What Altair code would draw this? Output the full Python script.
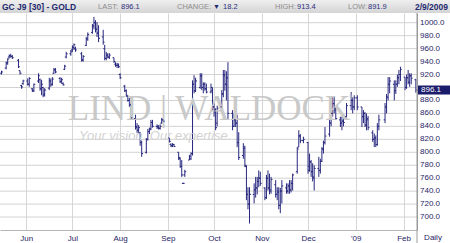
import altair as alt
import pandas as pd

# ---------------- data ----------------
dates = [
    # May 2008
    "2008-05-16", "2008-05-19", "2008-05-20", "2008-05-21", "2008-05-22", "2008-05-23", "2008-05-27", "2008-05-28", "2008-05-29", "2008-05-30",
    # Jun
    "2008-06-02", "2008-06-03", "2008-06-05", "2008-06-06", "2008-06-09", "2008-06-10", "2008-06-11", "2008-06-12", "2008-06-13", "2008-06-16",
    "2008-06-17", "2008-06-18", "2008-06-19", "2008-06-20", "2008-06-23", "2008-06-24", "2008-06-25", "2008-06-26", "2008-06-27", "2008-06-30",
    # Jul
    "2008-07-01", "2008-07-02", "2008-07-03", "2008-07-07", "2008-07-08", "2008-07-10", "2008-07-11", "2008-07-14", "2008-07-15", "2008-07-16",
    "2008-07-17", "2008-07-18", "2008-07-21", "2008-07-22", "2008-07-23", "2008-07-24", "2008-07-25", "2008-07-28", "2008-07-29", "2008-07-30", "2008-07-31",
    # Aug
    "2008-08-01", "2008-08-04", "2008-08-05", "2008-08-06", "2008-08-07", "2008-08-08", "2008-08-11", "2008-08-12", "2008-08-13", "2008-08-14",
    "2008-08-15", "2008-08-18", "2008-08-19", "2008-08-20", "2008-08-21", "2008-08-22", "2008-08-25", "2008-08-26", "2008-08-27", "2008-08-28", "2008-08-29",
    # Sep
    "2008-09-02", "2008-09-03", "2008-09-04", "2008-09-05", "2008-09-08", "2008-09-09", "2008-09-10", "2008-09-11", "2008-09-12", "2008-09-15",
    "2008-09-16", "2008-09-17", "2008-09-18", "2008-09-19", "2008-09-22", "2008-09-23", "2008-09-24", "2008-09-25", "2008-09-26", "2008-09-29", "2008-09-30",
    # Oct
    "2008-10-01", "2008-10-02", "2008-10-03", "2008-10-06", "2008-10-07", "2008-10-08", "2008-10-09", "2008-10-10", "2008-10-13", "2008-10-14",
    "2008-10-15", "2008-10-16", "2008-10-17", "2008-10-20", "2008-10-21", "2008-10-22", "2008-10-23", "2008-10-24", "2008-10-27", "2008-10-28",
    "2008-10-29", "2008-10-30", "2008-10-31",
    # Nov
    "2008-11-03", "2008-11-04", "2008-11-05", "2008-11-06", "2008-11-07", "2008-11-10", "2008-11-11", "2008-11-12", "2008-11-13", "2008-11-14",
    "2008-11-17", "2008-11-18", "2008-11-19", "2008-11-20", "2008-11-21", "2008-11-24", "2008-11-25", "2008-11-26", "2008-11-28",
    # Dec
    "2008-12-01", "2008-12-02", "2008-12-03", "2008-12-04", "2008-12-05", "2008-12-08", "2008-12-09", "2008-12-10", "2008-12-11", "2008-12-12",
    "2008-12-15", "2008-12-16", "2008-12-17", "2008-12-18", "2008-12-19", "2008-12-22", "2008-12-23", "2008-12-24", "2008-12-26", "2008-12-29",
    "2008-12-30", "2008-12-31",
    # Jan 2009
    "2009-01-02", "2009-01-05", "2009-01-06", "2009-01-07", "2009-01-08", "2009-01-09", "2009-01-12", "2009-01-13", "2009-01-14", "2009-01-15",
    "2009-01-16", "2009-01-20", "2009-01-21", "2009-01-22", "2009-01-23", "2009-01-26", "2009-01-27", "2009-01-28", "2009-01-29", "2009-01-30",
    # Feb
    "2009-02-02", "2009-02-03", "2009-02-04", "2009-02-05", "2009-02-06", "2009-02-09",
]

opens = [
    922, 930, 938, 947, 949, 948, 942, 926, 903, 906,
    910, 905, 898, 895, 910, 912, 898, 900, 890, 899, 910, 905, 922, 927, 914, 909, 906, 928, 947, 952,
    958, 962, 960, 952, 942, 965, 975, 985, 995, 1000, 990, 984, 978, 960, 945, 950, 947, 946, 936, 934, 934,
    920, 902, 895, 886, 880, 873, 852, 838, 834, 830, 815, 800, 820, 832, 836, 846, 840, 838, 837, 845, 850,
    822, 812, 810, 812, 800, 790, 778, 752, 765, 788, 790, 798, 905, 895, 900, 918, 900, 905, 898, 893, 895,
    870, 862, 845, 870, 890, 918, 905, 915, 860, 840, 850, 845, 815, 795, 806, 778, 735, 720, 735, 742, 745, 755, 760,
    745, 730, 760, 745, 742, 750, 735, 738, 718, 740, 745, 740, 748, 742, 752, 770, 808, 824, 818,
    815, 778, 785, 770, 760, 775, 772, 786, 805, 815, 828, 845, 860, 875, 865, 850, 845, 848, 855, 872, 880, 870,
    884, 870, 855, 860, 842, 850, 830, 820, 822, 812, 840, 850, 870, 885, 905, 905, 895, 905, 915, 920,
    916, 900, 915, 908, 918, 912,
]

highs = [
    926, 940, 945, 951, 952, 950, 944, 926, 904, 912,
    914, 916, 899, 906, 922, 914, 912, 901, 899, 915, 914, 916, 930, 930, 916, 915, 908, 935, 955, 958,
    965, 968, 963, 955, 950, 978, 985, 998, 1009, 1004, 1001, 996, 989, 966, 955, 953, 953, 946, 939, 938, 937,
    922, 904, 897, 888, 884, 873, 858, 845, 842, 831, 818, 822, 836, 838, 850, 850, 843, 842, 843, 853, 853,
    822, 814, 814, 813, 800, 792, 788, 753, 773, 796, 800, 911, 919, 915, 922, 922, 908, 908, 906, 906, 900,
    876, 868, 872, 896, 927, 927, 925, 939, 865, 860, 858, 858, 831, 814, 810, 780, 746, 746, 752, 762, 762, 772, 770,
    746, 765, 772, 767, 762, 757, 746, 746, 745, 757, 752, 752, 757, 757, 767, 808, 834, 828, 824,
    816, 798, 788, 783, 780, 793, 790, 808, 818, 839, 850, 865, 885, 885, 870, 855, 855, 852, 876, 893, 885, 888,
    888, 870, 865, 862, 860, 856, 834, 829, 826, 845, 858, 876, 890, 916, 916, 911, 911, 920, 927, 932,
    916, 920, 927, 922, 922, 913.4,
]

lows = [
    920, 928, 935, 945, 946, 944, 930, 920, 898, 904,
    903, 901, 893, 893, 907, 895, 888, 885, 886, 896, 901, 903, 921, 922, 907, 906, 903, 927, 945, 949,
    955, 958, 955, 940, 940, 964, 972, 983, 990, 985, 978, 970, 966, 942, 942, 945, 944, 938, 932, 930, 930,
    913, 893, 886, 878, 870, 850, 835, 830, 830, 810, 793, 798, 818, 828, 834, 838, 836, 835, 835, 844, 845,
    815, 808, 808, 808, 788, 776, 762, 751, 762, 788, 788, 795, 891, 893, 898, 896, 891, 895, 891, 891, 865,
    855, 834, 840, 868, 885, 895, 880, 850, 834, 839, 839, 808, 788, 790, 777, 726, 712, 690, 721, 730, 735, 746, 748,
    726, 728, 741, 735, 736, 730, 726, 712, 706, 721, 736, 736, 736, 738, 741, 767, 808, 814, 814,
    767, 770, 762, 755, 741, 762, 767, 785, 798, 812, 824, 840, 855, 860, 850, 839, 834, 840, 850, 865, 860, 865,
    865, 839, 845, 839, 834, 834, 816, 808, 808, 810, 834, 845, 860, 880, 891, 880, 890, 901, 905, 910,
    896, 898, 905, 901, 905, 891.9,
]

closes = [
    924, 938, 944, 949, 948, 946, 932, 922, 901, 910,
    905, 914, 895, 905, 918, 898, 905, 888, 896, 910, 904, 913, 928, 924, 909, 912, 904, 933, 952, 955,
    962, 966, 958, 943, 948, 975, 982, 995, 1000, 990, 984, 976, 970, 945, 950, 947, 950, 940, 934, 936, 932,
    915, 895, 888, 880, 874, 853, 840, 834, 838, 815, 798, 820, 832, 836, 846, 840, 840, 837, 840, 850, 848,
    817, 810, 812, 809, 792, 778, 765, 752, 770, 794, 798, 905, 895, 910, 918, 900, 905, 898, 893, 900, 870,
    865, 838, 868, 890, 920, 905, 915, 860, 840, 850, 845, 815, 792, 808, 780, 735, 720, 735, 742, 745, 755, 760, 752,
    730, 760, 745, 740, 758, 735, 740, 718, 740, 748, 740, 748, 742, 752, 765, 805, 826, 818, 820,
    772, 785, 770, 762, 775, 772, 786, 805, 815, 825, 845, 860, 875, 868, 852, 845, 848, 846, 872, 880, 870, 884,
    870, 855, 860, 842, 852, 838, 820, 822, 812, 840, 850, 870, 885, 905, 910, 895, 905, 915, 920, 928,
    900, 915, 908, 918, 914.3, 896.1,
]

month_starts = [(2008, 6), (2008, 7), (2008, 8), (2008, 9), (2008, 10), (2008, 11), (2008, 12), (2009, 1), (2009, 2)]
y_ticks = [700, 720, 740, 760, 780, 800, 820, 840, 860, 880, 900, 920, 940, 960, 980, 1000]

title_text = "GC J9 [30] - GOLD"
stat_labels = ["LAST:", "CHANGE:", "HIGH:", "LOW:"]
stat_values = [896.1, 18.2, 913.4, 891.9]
date_text = "2/9/2009"
watermark_main = "LIND | WALDOCK"
watermark_tag = "Your vision. Our expertise."

# ---------------- chart ----------------
NAVY = "#27277f"
LABEL_NAVY = "#1f2466"
GRID = "#d2d2d2"
FONT = "Liberation Sans"

df = pd.DataFrame({
    "date": [d + "T00:00:00" for d in dates],
    "open": opens, "high": highs, "low": lows, "close": closes,
})
one = pd.DataFrame({"k": [0]})
last = closes[-1]
ticks_df = pd.DataFrame({
    "v": y_ticks,
    "lab": ["" if (v == 900) else f"{v:.1f}" for v in y_ticks],
})

x_scale = alt.Scale(domain=[alt.DateTime(year=2008, month=5, date=15),
                            alt.DateTime(year=2009, month=2, date=9, hours=18)])
y_scale = alt.Scale(domain=[680, 1015], nice=False, zero=False)

x_axis = alt.Axis(
    values=[alt.DateTime(year=y, month=m, date=1) for y, m in month_starts],
    labelExpr="month(datum.value) == 0 ? \"'\" + timeFormat(datum.value, '%y') : timeFormat(datum.value, '%b')",
    title=None, grid=True, gridColor="#d6d6d6", domainColor="#b5b5b5", ticks=False,
    labelFont=FONT, labelFontSize=8, labelColor=LABEL_NAVY, labelPadding=4,
    labelOverlap=False, labelFlush=False,
)
y_axis = alt.Axis(orient="right", title=None, grid=False, labels=False, ticks=False,
                  domainColor="#9a9a9a")

# horizontal grid lines at every y tick (behind the bars)
hgrid = alt.Chart(ticks_df).mark_rule(color=GRID, strokeWidth=1).encode(
    y=alt.Y("v:Q", scale=y_scale, axis=y_axis))
# price labels on the right side
ylabels = alt.Chart(ticks_df).mark_text(
    align="left", baseline="middle", fontSize=8, font=FONT, color=LABEL_NAVY
).encode(x=alt.value(420), y=alt.Y("v:Q", scale=y_scale), text="lab:N")

base = alt.Chart(df)
hl = base.mark_rule(color=NAVY, strokeWidth=1).encode(
    x=alt.X("date:T", scale=x_scale, axis=x_axis),
    y=alt.Y("low:Q", scale=y_scale),
    y2="high:Q",
)
op = base.mark_rule(color=NAVY, strokeWidth=1, xOffset=-1.4, x2Offset=0).encode(
    x="date:T", x2="date:T", y="open:Q")
cl = base.mark_rule(color=NAVY, strokeWidth=1, xOffset=0, x2Offset=1.4).encode(
    x="date:T", x2="date:T", y="close:Q")


def txt(s, x, y, size=8, color=LABEL_NAVY, weight="normal", align="left",
        font=FONT, style="normal", baseline="middle"):
    return alt.Chart(one).mark_text(
        text=s, fontSize=size, color=color, fontWeight=weight, align=align,
        font=font, fontStyle=style, baseline=baseline,
    ).encode(x=alt.value(x), y=alt.value(y))


header_bg = alt.Chart(one).mark_rect(
    color=alt.LinearGradient(
        gradient="linear",
        stops=[alt.GradientStop(color="#efefef", offset=0), alt.GradientStop(color="#d4d4d4", offset=1)],
        x1=0, x2=0, y1=0, y2=1,
    )
).encode(x=alt.value(0), x2=alt.value(450), y=alt.value(-13), y2=alt.value(0))

sep = alt.Chart(one).mark_rule(color="#9a9a9a", strokeWidth=1).encode(
    x=alt.value(417), y=alt.value(0), y2=alt.value(230))

last_df = pd.DataFrame({"last": [last]})
box = alt.Chart(last_df).mark_rect(color="#1b1c6b", yOffset=-4.5, y2Offset=4.5).encode(
    x=alt.value(418), x2=alt.value(450), y=alt.Y("last:Q", scale=y_scale), y2="last:Q")
box_txt = alt.Chart(last_df).mark_text(
    text=f"{last:.1f}", color="white", align="left", baseline="middle", fontSize=8, font=FONT
).encode(x=alt.value(421), y=alt.Y("last:Q", scale=y_scale))

wm1 = txt(watermark_main, 209, 107, size=35, color="#c9c9c9", align="center",
          font="Liberation Serif", baseline="alphabetic")
wm_r = txt("\u00ae", 349, 84, size=6, color="#c9c9c9", align="left", baseline="middle")
wm2 = txt(watermark_tag, 79, 127, size=13, color="#d3d3d3", align="left",
          style="italic", baseline="alphabetic")

HY = -6.5
GRAY = "#8c8c8c"
head = [
    txt(title_text, 2, HY, size=8.5, color="#1f2a6e", weight="bold"),
    txt(stat_labels[0], 98, HY, size=7.5, color=GRAY),
    txt(f"{stat_values[0]:.1f}", 121, HY, size=7.5, color="#2a2f80"),
    txt(stat_labels[1], 177, HY, size=7.5, color=GRAY),
    txt("\u25bc", 213, HY, size=7, color="#1f2a6e"),
    txt(f"{stat_values[1]:.1f}", 223, HY, size=7.5, color="#2a2f80"),
    txt(stat_labels[2], 275, HY, size=7.5, color=GRAY),
    txt(f"{stat_values[2]:.1f}", 297, HY, size=7.5, color="#2a2f80"),
    txt(stat_labels[3], 348, HY, size=7.5, color=GRAY),
    txt(f"{stat_values[3]:.1f}", 368, HY, size=7.5, color="#2a2f80"),
    txt(date_text, 448, HY, size=8.5, color="#1f2a6e", weight="bold", align="right"),
]
daily = txt("Daily", 433, 225, size=8, color=LABEL_NAVY, align="center")

chart = alt.layer(
    hgrid, hl, header_bg, wm1, wm_r, wm2, op, cl, sep, ylabels, box, box_txt, daily, *head
).properties(
    width=417, height=217,
    padding={"left": 0, "top": 13, "right": 33, "bottom": 13},
    autosize=alt.AutoSizeParams(type="none"),
    background="white",
).configure_view(stroke=None)

chart.save("out.html", embed_options={"renderer": "svg", "actions": False})
